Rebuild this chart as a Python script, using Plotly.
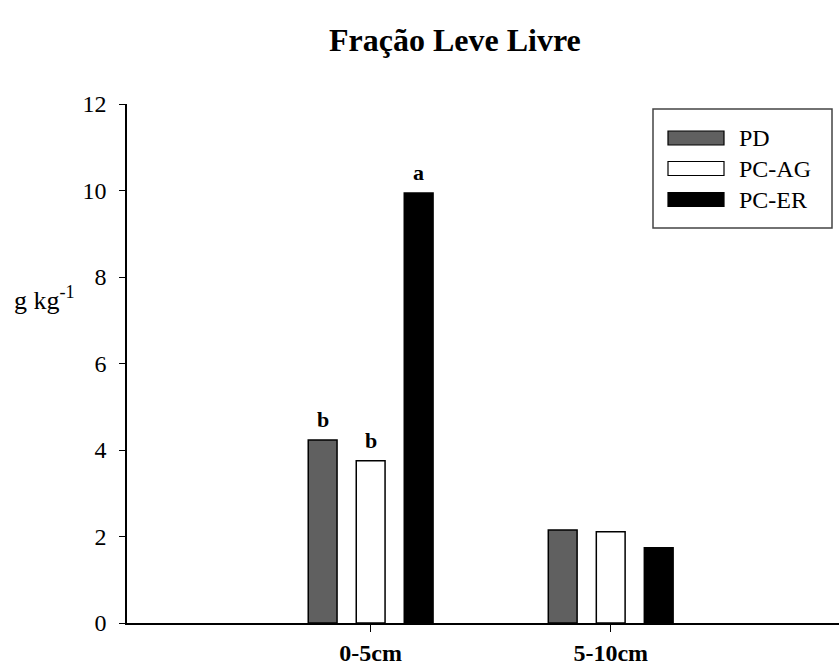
import plotly.graph_objects as go

# ---- data ----
categories = ["0-5cm", "5-10cm"]
series_names = ["PD", "PC-AG", "PC-ER"]
pd_values = [4.23, 2.15]
pcag_values = [3.75, 2.11]
pcer_values = [9.94, 1.74]
pd_letters = ["b", ""]
pcag_letters = ["b", ""]
pcer_letters = ["a", ""]
y_ticks = [0, 2, 4, 6, 8, 10, 12]

values = [pd_values, pcag_values, pcer_values]
letters = [pd_letters, pcag_letters, pcer_letters]
fills = ["#606060", "#ffffff", "#000000"]

W, H = 839, 666
ML, MR, MT, MB = 127, 0, 104, 43
PW, PH = W - ML - MR, H - MT - MB
SERIF = "Liberation Serif, Times New Roman, serif"

def px2paper(px, py):
    return (px - ML) / PW, (H - MB - py) / PH

fig = go.Figure()
xpos = list(range(len(categories)))
for name, vals, col in zip(series_names, values, fills):
    fig.add_trace(go.Bar(
        name=name, x=xpos, y=vals,
        marker=dict(color=col, line=dict(color="#000000", width=1.5)),
        showlegend=False, hoverinfo="skip"
    ))

# significance letters above bars
slot = 0.2
n = len(series_names)
for k, (vals, lets) in enumerate(zip(values, letters)):
    for i, (v, t) in enumerate(zip(vals, lets)):
        if t:
            fig.add_annotation(x=i + (k - (n - 1) / 2) * slot, y=v, xref="x", yref="y",
                               text="<b>%s</b>" % t, showarrow=False,
                               yanchor="bottom", yshift=6,
                               font=dict(family=SERIF, size=22, color="#000"))

# title
tx, ty = px2paper(455, 40)
fig.add_annotation(x=tx, y=ty, xref="paper", yref="paper", text="<b>Fração Leve Livre</b>",
                   showarrow=False, xanchor="center", yanchor="middle",
                   font=dict(family=SERIF, size=32, color="#000"))

# y-axis label
lx, ly = px2paper(44, 298)
fig.add_annotation(x=lx, y=ly, xref="paper", yref="paper",
                   text="g kg<sup>-1</sup>",
                   showarrow=False, xanchor="center", yanchor="middle",
                   font=dict(family=SERIF, size=26, color="#000"))

# manual legend (box + swatches)
bx0, by0 = px2paper(653, 228)
bx1, by1 = px2paper(832, 109)
fig.add_shape(type="rect", xref="paper", yref="paper", x0=bx0, y0=by0, x1=bx1, y1=by1,
              line=dict(color="#444", width=1.5), fillcolor="rgba(0,0,0,0)")
sw_rows = [138, 168.5, 199.5]
for name, col, cy in zip(series_names, fills, sw_rows):
    sx0, sy0 = px2paper(668, cy + 7)
    sx1, sy1 = px2paper(724, cy - 7)
    fig.add_shape(type="rect", xref="paper", yref="paper", x0=sx0, y0=sy0, x1=sx1, y1=sy1,
                  line=dict(color="#000", width=1.2), fillcolor=col)
    tx_, ty_ = px2paper(737, cy)
    fig.add_annotation(x=tx_, y=ty_, xref="paper", yref="paper", text=name, showarrow=False,
                       xanchor="left", yanchor="middle",
                       font=dict(family=SERIF, size=24, color="#000"))

fig.update_layout(
    width=W, height=H,
    margin=dict(l=ML, r=MR, t=MT, b=MB, pad=0, autoexpand=False),
    paper_bgcolor="#ffffff", plot_bgcolor="#ffffff",
    barmode="group", bargap=0.4, bargroupgap=0.4,
    showlegend=False,
    font=dict(family=SERIF, color="#000"),
)
fig.update_xaxes(
    range=[-1.015, 1.951], tickvals=xpos, ticktext=["<b>%s</b>" % c for c in categories],
    showline=True, linecolor="#000", linewidth=1.5, ticks="outside", ticklen=7,
    tickcolor="#000", tickwidth=1.2, showgrid=False, zeroline=False, automargin=False,
    tickfont=dict(family=SERIF, size=24, color="#000"), ticklabelstandoff=0,
)
fig.update_yaxes(
    range=[0, 12], tickvals=y_ticks, showline=True, linecolor="#000", linewidth=1.5,
    ticks="outside", ticklen=6, tickcolor="#000", tickwidth=1.2, showgrid=False,
    zeroline=False, automargin=False,
    tickfont=dict(family=SERIF, size=24, color="#000"), ticklabelstandoff=8,
)

fig.write_html("out.html")
